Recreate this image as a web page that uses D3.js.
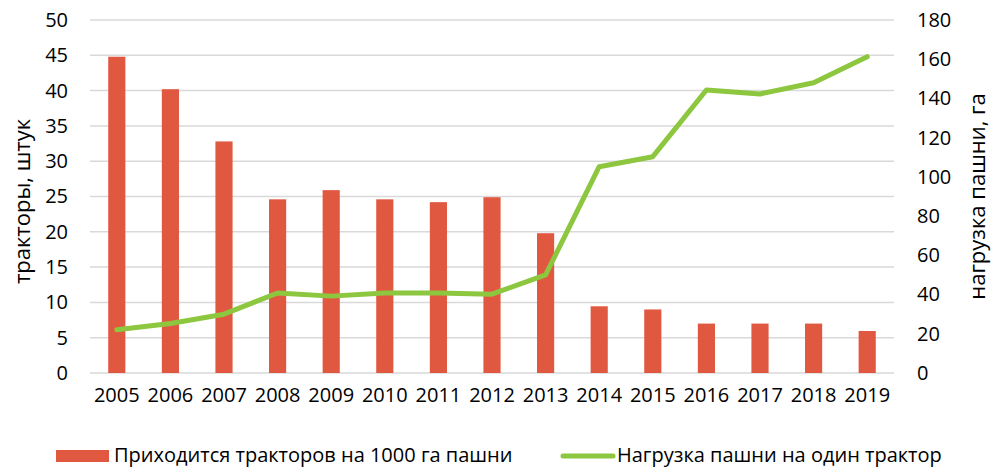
<!DOCTYPE html>
<html>
<meta charset="utf-8">
<head>
<style>
    body { margin: 0; background: #fff; }
    text { font-family: "Open Sans", sans-serif; fill: #000; }
    .grid line { stroke: #d9d9d9; stroke-width: 1.5px; }
    .axis path, .axis line { display: none; }
</style>
</head>
<body>
<div id="viz"></div>
<script src="https://cdn.jsdelivr.net/npm/d3@7"></script>
<script>
const years = ['2005', '2006', '2007', '2008', '2009', '2010', '2011', '2012',
    '2013', '2014', '2015', '2016', '2017', '2018', '2019'];
// тракторов на 1000 га пашни
const tractors = [44.8, 40.2, 32.8, 24.6, 25.9, 24.6, 24.2, 24.9, 19.8, 9.45, 9.0, 7.0, 7.0, 7.0, 5.95];
// нагрузка пашни на один трактор, га
const load = [22.1, 25.2, 30, 40.8, 39.2, 40.8, 40.8, 40.2, 50, 105.2, 110.3, 144.3, 142.3, 148, 161.3];
const leftTicks = [0, 5, 10, 15, 20, 25, 30, 35, 40, 45, 50];
const rightTicks = [0, 20, 40, 60, 80, 100, 120, 140, 160, 180];

const width = 993;
const height = 468;
const margin = { top: 20, right: 99, bottom: 95, left: 90 };
const barColor = '#e15841';
const lineColor = '#8dc63f';

const svg = d3.select('#viz')
    .append('svg')
    .attr('width', width)
    .attr('height', height);

const x = d3.scaleBand()
    .domain(years)
    .range([margin.left, width - margin.right])
    .paddingInner(0.68)
    .paddingOuter(0.34);

const yL = d3.scaleLinear().domain([0, 50]).range([height - margin.bottom, margin.top]);
const yR = d3.scaleLinear().domain([0, 180]).range([height - margin.bottom, margin.top]);

// gridlines
svg.append('g')
    .attr('class', 'grid')
    .selectAll('line')
    .data(leftTicks)
    .enter()
    .append('line')
    .attr('x1', margin.left)
    .attr('x2', width - margin.right)
    .attr('y1', d => yL(d))
    .attr('y2', d => yL(d));

// bars
svg.append('g')
    .selectAll('rect')
    .data(tractors)
    .enter()
    .append('rect')
    .attr('x', (d, i) => x(years[i]))
    .attr('y', d => yL(d))
    .attr('width', x.bandwidth())
    .attr('height', d => yL(0) - yL(d))
    .attr('fill', barColor);

// line
const line = d3.line()
    .x((d, i) => x(years[i]) + x.bandwidth() / 2)
    .y(d => yR(d));

svg.append('path')
    .datum(load)
    .attr('d', line)
    .attr('fill', 'none')
    .attr('stroke', lineColor)
    .attr('stroke-width', 5)
    .attr('stroke-linecap', 'round')
    .attr('stroke-linejoin', 'round');

// axes
const axL = svg.append('g')
    .attr('class', 'axis')
    .attr('transform', 'translate(' + (margin.left - 22) + ',0)')
    .call(d3.axisLeft(yL).tickValues(leftTicks).tickSize(0).tickPadding(0));
axL.selectAll('text').style('font-size', '20px');

const axR = svg.append('g')
    .attr('class', 'axis')
    .attr('transform', 'translate(' + (width - margin.right + 23) + ',0)')
    .call(d3.axisRight(yR).tickValues(rightTicks).tickSize(0).tickPadding(0));
axR.selectAll('text').style('font-size', '20px');

const axB = svg.append('g')
    .attr('class', 'axis')
    .attr('transform', 'translate(0,' + (height - margin.bottom + 15) + ')')
    .call(d3.axisBottom(x).tickSize(0).tickPadding(0));
axB.selectAll('text').style('font-size', '20px');

// axis titles
svg.append('text')
    .attr('transform', 'translate(30,' + ((margin.top + height - margin.bottom) / 2 + 5) + ') rotate(-90)')
    .attr('text-anchor', 'middle')
    .style('font-size', '22px')
    .text('тракторы, штук');

svg.append('text')
    .attr('transform', 'translate(985,' + ((margin.top + height - margin.bottom) / 2) + ') rotate(-90)')
    .attr('text-anchor', 'middle')
    .style('font-size', '22px')
    .text('нагрузка пашни, га');

// legend
const lg = svg.append('g').attr('transform', 'translate(0,455)');
lg.append('rect')
    .attr('x', 56).attr('y', -5)
    .attr('width', 53).attr('height', 12)
    .attr('fill', barColor);
lg.append('text')
    .attr('x', 114).attr('y', 0)
    .attr('dy', '0.35em')
    .style('font-size', '20px')
    .text('Приходится тракторов на 1000 га пашни');
lg.append('line')
    .attr('x1', 563).attr('x2', 613)
    .attr('y1', 1).attr('y2', 1)
    .attr('stroke', lineColor)
    .attr('stroke-width', 5)
    .attr('stroke-linecap', 'round');
lg.append('text')
    .attr('x', 617).attr('y', 0)
    .attr('dy', '0.35em')
    .style('font-size', '20px')
    .text('Нагрузка пашни на один трактор');
</script>
</body>
</html>
